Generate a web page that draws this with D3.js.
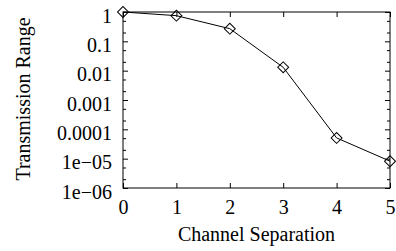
<!DOCTYPE html>
<html>
<head>
<meta charset="utf-8">
<script src="https://cdn.jsdelivr.net/npm/d3@7"></script>
<style>
  body { margin: 0; background: #fff; }
  svg { display: block; }
  text { font-family: "Liberation Serif", "DejaVu Serif", serif; fill: #000; }
</style>
</head>
<body>
<div id="chart"></div>
<script>
// Data
const separations = [0, 1, 2, 3, 4, 5];
const ranges = [1.0, 0.75, 0.27, 0.013, 5.1e-5, 8.2e-6];

const xTicks = [0, 1, 2, 3, 4, 5];
const yTicks = [1e-6, 1e-5, 1e-4, 1e-3, 1e-2, 1e-1, 1];
const yTickLabels = ["1e\u221206", "1e\u221205", "0.0001", "0.001", "0.01", "0.1", "1"];
const minorMultiples = [2, 5];

// Chart dimensions
const width = 396, height = 251;
const plot = { left: 123, right: 390, top: 12, bottom: 188 };

const svg = d3.select("#chart").append("svg")
    .attr("width", width)
    .attr("height", height);

// Scales
const x = d3.scaleLinear().domain([0, 5]).range([plot.left, plot.right]);
const y = d3.scaleLog().domain([1e-6, 1]).range([plot.bottom, plot.top]);

// minor tick values (2x and 5x of each decade)
const yMinor = yTicks.slice(0, -1).flatMap(t => minorMultiples.map(m => t * m));

const fontSize = 20;

// --- Left axis (labels + major ticks pointing in) ---
const left = svg.append("g")
    .attr("transform", `translate(${plot.left},0)`)
    .call(d3.axisLeft(y).tickValues(yTicks)
        .tickFormat((d, i) => yTickLabels[i])
        .tickSize(-5).tickPadding(11));
left.selectAll("text").attr("dy", "0.5em").style("font-size", fontSize + "px");

svg.append("g")
    .attr("transform", `translate(${plot.left},0)`)
    .call(d3.axisLeft(y).tickValues(yMinor).tickFormat("").tickSize(-3));

// --- Right axis (mirror ticks) ---
svg.append("g")
    .attr("transform", `translate(${plot.right},0)`)
    .call(d3.axisRight(y).tickValues(yTicks).tickFormat("").tickSize(-5));
svg.append("g")
    .attr("transform", `translate(${plot.right},0)`)
    .call(d3.axisRight(y).tickValues(yMinor).tickFormat("").tickSize(-3));

// --- Bottom axis ---
const bottom = svg.append("g")
    .attr("transform", `translate(0,${plot.bottom})`)
    .call(d3.axisBottom(x).tickValues(xTicks).tickFormat(d3.format("d"))
        .tickSize(-5).tickPadding(12));
bottom.selectAll("text").style("font-size", fontSize + "px");

// --- Top axis (mirror ticks) ---
svg.append("g")
    .attr("transform", `translate(0,${plot.top})`)
    .call(d3.axisTop(x).tickValues(xTicks).tickFormat("").tickSize(-5));

svg.selectAll(".domain").remove();
svg.selectAll(".tick line").attr("stroke", "#000").attr("stroke-width", 1);

// Frame
svg.append("rect")
    .attr("x", plot.left)
    .attr("y", plot.top)
    .attr("width", plot.right - plot.left)
    .attr("height", plot.bottom - plot.top)
    .attr("fill", "none")
    .attr("stroke", "#000")
    .attr("stroke-width", 1);

// Line
const points = separations.map((s, i) => ({ s: s, r: ranges[i] }));
svg.append("path")
    .datum(points)
    .attr("fill", "none")
    .attr("stroke", "#000")
    .attr("stroke-width", 1)
    .attr("d", d3.line().x(d => x(d.s)).y(d => y(d.r)));

// Diamond markers (square rotated 45deg)
svg.append("g").selectAll("path")
    .data(points)
    .join("path")
    .attr("transform", d => `translate(${x(d.s)},${y(d.r)}) rotate(45)`)
    .attr("d", d3.symbol(d3.symbolSquare, 60))
    .attr("fill", "none")
    .attr("stroke", "#000")
    .attr("stroke-width", 1);

// Axis titles
svg.append("text")
    .attr("x", (plot.left + plot.right) / 2)
    .attr("y", 241)
    .attr("text-anchor", "middle")
    .style("font-size", fontSize + "px")
    .text("Channel Separation");

svg.append("text")
    .attr("transform", `translate(30,99) rotate(-90)`)
    .attr("text-anchor", "middle")
    .style("font-size", fontSize + "px")
    .text("Transmission Range");
</script>
</body>
</html>
